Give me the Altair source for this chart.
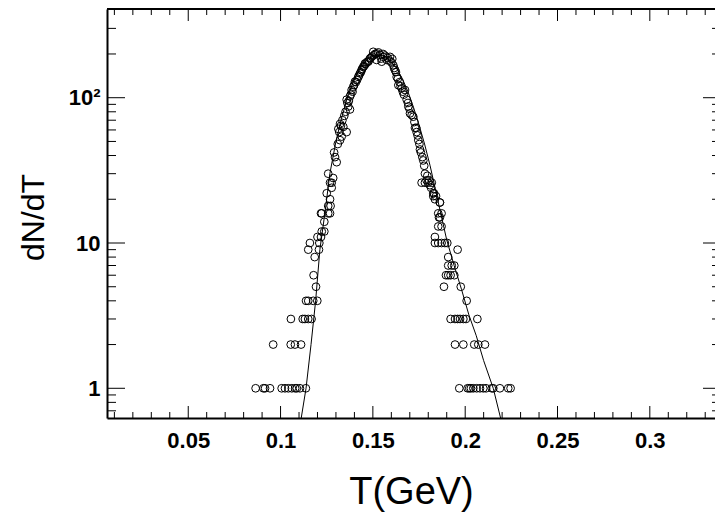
import altair as alt
import pandas as pd

# ---------------- data ----------------
T_vals = [
    # dN/dT = 1, left
    0.0865, 0.0907, 0.0916, 0.0943, 0.1006, 0.1024, 0.1042, 0.1061, 0.1079, 0.1088, 0.1105, 0.1137,
    # 2,3,4...
    0.0960, 0.1055, 0.1078, 0.1111,
    0.1056, 0.1120, 0.1132, 0.1150, 0.1168,
    0.1138, 0.1150, 0.1177, 0.1199,
    0.1192, 0.1179, 0.1185, 0.1150, 0.1208, 0.1159, 0.1210, 0.1200, 0.1219,
    0.1223, 0.1237, 0.1237, 0.1219, 0.1268, 0.1223, 0.1258, 0.1258, 0.1271, 0.1268, 0.1250, 0.1277,
    # left flank, upper part
    0.1258, 0.1285, 0.1268, 0.1277, 0.1295, 0.1304, 0.1322, 0.1313, 0.1340, 0.1358, 0.1331, 0.1322,
    0.1358, 0.1367, 0.1376, 0.1376, 0.1385, 0.1394, 0.1403, 0.1421, 0.1430, 0.1439, 0.1448, 0.1457,
    0.1475, 0.1484, 0.1502, 0.1520, 0.1539, 0.1557, 0.1593, 0.1575, 0.1548, 0.1520,
    0.1290, 0.1310, 0.1318, 0.1327, 0.1335, 0.1345, 0.1352, 0.1362, 0.1370, 0.1380, 0.1390, 0.1398,
    0.1408, 0.1415, 0.1425, 0.1435, 0.1442, 0.1452, 0.1460, 0.1468, 0.1478, 0.1488, 0.1495, 0.1505,
    0.1512, 0.1530, 0.1545, 0.1555, 0.1565, 0.1580, 0.1590, 0.1600, 0.1605,
    # right flank, upper part
    0.1611, 0.1620, 0.1629, 0.1638, 0.1656, 0.1674, 0.1683, 0.1692, 0.1701, 0.1719, 0.1728, 0.1737,
    0.1746, 0.1755, 0.1773, 0.1782, 0.1791, 0.1809, 0.1827, 0.1836, 0.1863, 0.1872,
    0.1615, 0.1625, 0.1635, 0.1645, 0.1650, 0.1662, 0.1668, 0.1690, 0.1698, 0.1710, 0.1725, 0.1735,
    0.1742, 0.1752, 0.1760, 0.1768, 0.1778, 0.1795, 0.1805, 0.1815,
    # right flank, lower part
    0.1764, 0.1782, 0.1800, 0.1819, 0.1831, 0.1827, 0.1842, 0.1863, 0.1854, 0.1858, 0.1863,
    0.1854, 0.1872, 0.1836, 0.1836, 0.1854, 0.1872, 0.1890, 0.1903, 0.1959, 0.1908,
    0.1908, 0.1927, 0.1941, 0.1896, 0.1908, 0.1921, 0.1941, 0.1885, 0.1976, 0.2008,
    0.1921, 0.1945, 0.1959, 0.1972, 0.1990, 0.2004, 0.2066,
    0.1945, 0.1990, 0.2049, 0.2071, 0.2107,
    0.1968, 0.2013, 0.2022, 0.2031, 0.2044, 0.2062, 0.2080, 0.2098, 0.2113, 0.2144, 0.2152, 0.2188, 0.2233, 0.2246,
]
N_vals = [
    1, 1, 1, 1, 1, 1, 1, 1, 1, 1, 1, 1,
    2, 2, 2, 2,
    3, 3, 3, 3, 3,
    4, 4, 4, 4,
    5, 6, 8, 9, 9, 10, 10, 11, 11,
    12, 12, 14, 16, 16, 16, 16, 18, 18, 20, 22, 26,
    30, 28, 26, 24, 39, 36, 66, 61, 63, 58, 54, 51,
    97, 87, 83, 102, 113, 119, 129, 139, 147, 155, 163, 172,
    177, 186, 207, 202, 197, 191, 191, 182, 177, 182,
    42, 48, 58, 64, 70, 75, 80, 92, 95, 105, 110, 122,
    128, 133, 142, 150, 158, 165, 170, 176, 180, 188, 192, 196,
    200, 205, 186, 200, 195, 188, 180, 175, 185,
    167, 155, 139, 122, 116, 113, 97, 87, 78, 74, 62, 58,
    51, 44, 37, 30, 27, 25, 22, 20, 19, 16,
    160, 150, 135, 128, 120, 110, 105, 92, 84, 76, 68, 62,
    55, 48, 42, 39, 34, 29, 27, 24,
    26, 26, 26, 26, 22, 21, 21, 19, 16, 15, 15,
    13, 13, 11, 10, 10, 10, 10, 10, 9, 8,
    7, 7, 7, 6, 6, 6, 6, 5, 5, 4,
    3, 3, 3, 3, 3, 3, 3,
    2, 2, 2, 2, 2,
    1, 1, 1, 1, 1, 1, 1, 1, 1, 1, 1, 1, 1, 1,
]

# fitted curve
curve_T = [0.1105, 0.1138, 0.1165, 0.1190, 0.1213, 0.1240, 0.1267, 0.1300, 0.1330, 0.1360,
           0.1390, 0.1420, 0.1450, 0.1480, 0.1510, 0.1540, 0.1570, 0.1600, 0.1630, 0.1660,
           0.1690, 0.1720, 0.1750, 0.1780, 0.1810, 0.1840, 0.1870, 0.1900, 0.1940, 0.1980,
           0.2020, 0.2060, 0.2100, 0.2152, 0.2195]
curve_N = [0.55, 1.0, 2.0, 4.0, 9.0, 16, 30, 50, 72, 98,
           125, 150, 172, 188, 196, 197, 190, 177, 158, 135,
           110, 86, 65, 48, 34, 23, 15.5, 10.5, 7.0, 4.8,
           3.2, 2.3, 1.55, 1.0, 0.6]

x_major = [0.05, 0.1, 0.15, 0.2, 0.25, 0.3]
x_minor = [0.01, 0.02, 0.03, 0.04, 0.06, 0.07, 0.08, 0.09, 0.11, 0.12, 0.13, 0.14,
           0.16, 0.17, 0.18, 0.19, 0.21, 0.22, 0.23, 0.24, 0.26, 0.27, 0.28, 0.29,
           0.31, 0.32, 0.33]
y_major = [1, 10, 100]
y_minor = [0.7, 0.8, 0.9, 2, 3, 4, 5, 6, 7, 8, 9, 20, 30, 40, 50, 60, 70, 80, 90, 200, 300]

# ---------------- layout ----------------
W, H = 608, 409
FONT = "Liberation Sans"
xs = alt.Scale(domain=[0.006, 0.3353], nice=False, zero=False)
ys = alt.Scale(type="log", domain=[0.6245, 407.9], nice=False)

pts = pd.DataFrame({"T": T_vals, "N": N_vals})
crv = pd.DataFrame({"T": curve_T, "N": curve_N})

x_axis = alt.Axis(values=x_major, format="~g", title="T(GeV)", grid=False, ticks=False, tickSize=0,
                  domain=True, domainColor="black", domainWidth=2,
                  labelFont=FONT, labelFontSize=22, labelFontWeight="bold", labelColor="black",
                  labelPadding=12, titleFont=FONT, titleFontSize=38, titleFontWeight="normal",
                  titleColor="black", titleBaseline="alphabetic", titleY=85, titleX=W / 2)
y_axis = alt.Axis(values=y_major, title="dN/dT", grid=False, ticks=False, tickSize=0,
                  domain=True, domainColor="black", domainWidth=2,
                  labelExpr="datum.value >= 100 ? '10\u00b2' : format(datum.value, 'd')",
                  labelFont=FONT, labelFontSize=22, labelFontWeight="bold", labelColor="black",
                  labelPadding=7, titleFont=FONT, titleFontSize=32, titleFontWeight="normal",
                  titleColor="black", titleAngle=270, titleBaseline="alphabetic",
                  titleX=-64, titleY=208, titleAlign="center")

X = lambda f: alt.X(f, scale=xs, axis=x_axis)
Y = lambda f: alt.Y(f, scale=ys, axis=y_axis)

points = alt.Chart(pts).mark_point(shape="circle", filled=False, color="black", size=60,
                                   strokeWidth=1, opacity=1, clip=True).encode(
    x=X("T:Q"), y=Y("N:Q"))
curve = alt.Chart(crv).mark_line(color="black", strokeWidth=1, clip=True).encode(
    x=X("T:Q"), y=Y("N:Q"))

def xticks(vals, length):
    df = pd.DataFrame({"t": vals})
    bot = alt.Chart(df).mark_rule(color="black", strokeWidth=1).encode(
        x=X("t:Q"), y=alt.value(H), y2=alt.value(H - length))
    top = alt.Chart(df).mark_rule(color="black", strokeWidth=1).encode(
        x=X("t:Q"), y=alt.value(0), y2=alt.value(length))
    return [bot, top]

def yticks(vals, length):
    df = pd.DataFrame({"t": vals})
    left = alt.Chart(df).mark_rule(color="black", strokeWidth=1).encode(
        y=Y("t:Q"), x=alt.value(0), x2=alt.value(length))
    right = alt.Chart(df).mark_rule(color="black", strokeWidth=1).encode(
        y=Y("t:Q"), x=alt.value(W + 6), x2=alt.value(W + 6 - length))
    return [left, right]

top_frame = alt.Chart(pd.DataFrame({"a": [0]})).mark_rule(color="black", strokeWidth=2).encode(
    x=alt.value(0), x2=alt.value(W + 6), y=alt.value(0))

layers = [curve, points] + xticks(x_major, 12) + xticks(x_minor, 6) + yticks(y_major, 18) + \
         yticks(y_minor, 9) + [top_frame]

chart = alt.layer(*layers).properties(
    width=W, height=H,
    padding={"left": 107, "top": 9, "right": 0, "bottom": 97},
    autosize=alt.AutoSizeParams(type="none"),
    background="white",
).configure_view(stroke=None)

chart.save("out.html", embed_options={"renderer": "svg", "actions": False})
